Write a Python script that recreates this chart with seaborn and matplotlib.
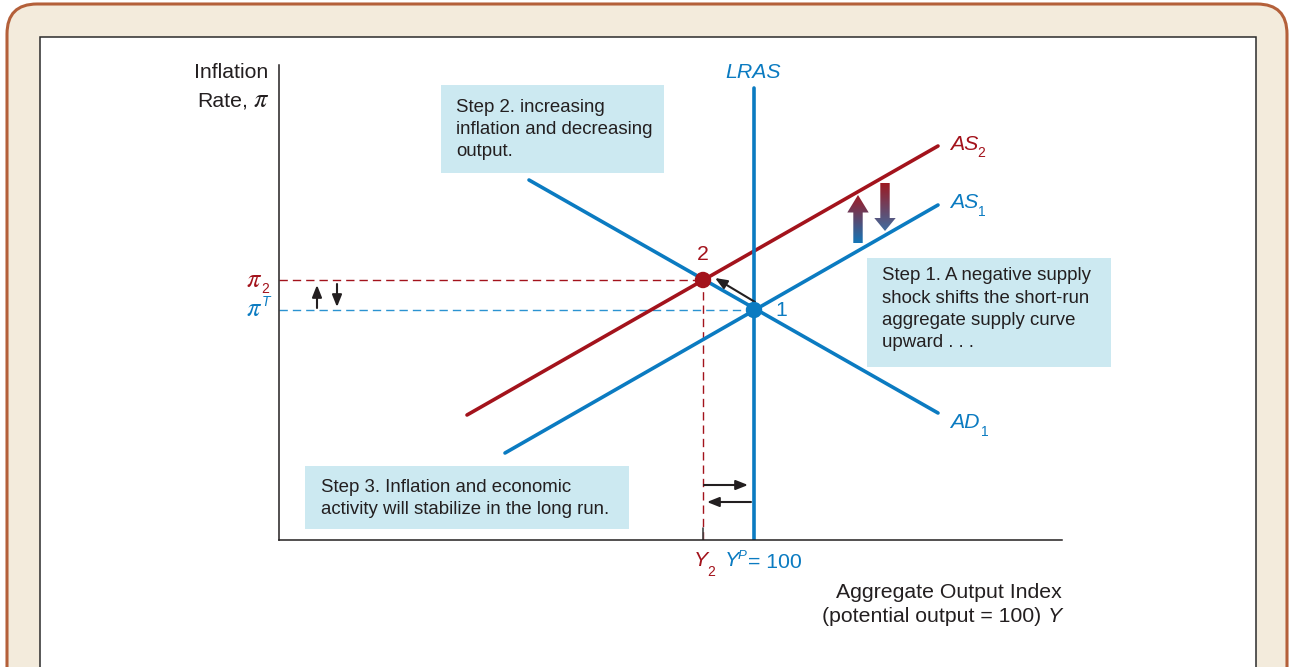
import numpy as np
import pandas as pd
import matplotlib
matplotlib.use('Agg')
import matplotlib.pyplot as plt
import seaborn as sns
from matplotlib.patches import FancyBboxPatch, Rectangle, Polygon
from matplotlib.transforms import IdentityTransform
from matplotlib.colors import LinearSegmentedColormap

# Valores del gráfico (índice de producción, inflación en unidades del gráfico)
y_potential = 100.0
y_2 = 94.9
pi_target = 23.0
pi_2 = 26.0
lras_top = 45.2
x_range = [52.5, 130.8]
y_range = [0.0, 47.5]

as1_x = [75.1, 118.4]
as1_y = [8.7, 33.5]
as2_x = [71.3, 118.4]
as2_y = [12.5, 39.4]
ad1_x = [77.5, 118.4]
ad1_y = [36.0, 12.7]
lras_x = [y_potential, y_potential]
lras_y = [0.0, lras_top]

eq_names = ['1', '2']
eq_x = [y_potential, y_2]
eq_y = [pi_target, pi_2]

step_texts = {
    'step2': ['Step 2. increasing', 'inflation and decreasing', 'output.'],
    'step1': ['Step 1. A negative supply', 'shock shifts the short-run',
              'aggregate supply curve', 'upward . . .'],
    'step3': ['Step 3. Inflation and economic', 'activity will stabilize in the long run.'],
}

# Colores
BLUE = '#0B7BC1'
BLUE_DASH = '#2B93D1'
RED = '#A3131C'
BOX = '#CCE9F1'
INK = '#231F20'
BEIGE = '#F3EBDC'
RUST = '#B4603A'

W, H = 1293, 667
FS = 15.3
FS_BOX = 13.4

sns.set_theme(style='white')
plt.rcParams['font.family'] = ['Liberation Sans', 'DejaVu Sans']
plt.rcParams['mathtext.fontset'] = 'stix'

fig = plt.figure(figsize=(W / 100, H / 100), dpi=100)
fig.patch.set_facecolor('white')

# Marco exterior y panel blanco (en píxeles)
frame = FancyBboxPatch((7, -60), 1280, H - 4 + 60,
                       boxstyle='round,pad=0,rounding_size=30',
                       transform=IdentityTransform(), facecolor=BEIGE,
                       edgecolor=RUST, linewidth=2.2, zorder=-10)
fig.patches.append(frame)
panel = Rectangle((40, -20), 1216, H - 37 + 20, transform=IdentityTransform(),
                  facecolor='white', edgecolor='#2B2B2B', linewidth=1.1, zorder=-9)
fig.patches.append(panel)


def box(x0, y0, x1, y1):
    r = Rectangle((x0, H - y1), x1 - x0, y1 - y0, transform=IdentityTransform(),
                  facecolor=BOX, edgecolor='none', zorder=-8)
    fig.patches.append(r)


box(441, 85, 664, 173)
box(867, 258, 1111, 367)
box(305, 466, 629, 529)


def ftext(x, y, s, **kw):
    kw.setdefault('va', 'center')
    kw.setdefault('color', INK)
    kw.setdefault('fontsize', FS)
    fig.text(x / W, 1 - y / H, s, **kw)


# Ejes principales
ax = fig.add_axes([279 / W, (H - 540) / H, 783 / W, 475 / H])
ax.set_facecolor('none')
ax.set_xlim(x_range)
ax.set_ylim(y_range)
ax.set_xticks([])
ax.set_yticks([])
sns.despine(ax=ax)
for side in ['left', 'bottom']:
    ax.spines[side].set_color(INK)
    ax.spines[side].set_linewidth(1.1)

# Líneas de referencia discontinuas
dash = (0, (6, 3.6))
ax.plot([x_range[0], y_2], [pi_2, pi_2], ls=dash, color=RED, lw=1.0, zorder=1)
ax.plot([y_2, y_2], [0, pi_2], ls=dash, color=RED, lw=1.0, zorder=1)
ax.plot([x_range[0], y_potential], [pi_target, pi_target], ls=dash, color=BLUE_DASH, lw=1.0, zorder=1)
ax.plot([y_2, y_2], [0, 1.2], color='#444444', lw=1.2, zorder=1)

# Curvas
curves = [(ad1_x, ad1_y, BLUE), (as1_x, as1_y, BLUE), (as2_x, as2_y, RED), (lras_x, lras_y, BLUE)]
for cx, cy, col in curves:
    sns.lineplot(x=cx, y=cy, ax=ax, color=col, lw=2.6, estimator=None, sort=False, zorder=2)

# Puntos de equilibrio
eq_df = pd.DataFrame({'name': eq_names, 'x': eq_x, 'y': eq_y})
sns.scatterplot(data=eq_df, x='x', y='y', hue='name', palette={'1': BLUE, '2': RED},
                s=140, edgecolor='none', legend=False, ax=ax, zorder=5)
ax.set_xlabel('')
ax.set_ylabel('')

# Flechas negras
thin = dict(arrowstyle='-|>,head_length=0.6,head_width=0.24', color=INK, lw=1.5,
            shrinkA=0, shrinkB=0)
ax.annotate('', xy=(96.1, 26.2), xytext=(100.1, 23.8), arrowprops=thin, zorder=4)
ax.annotate('', xy=(56.3, 25.5), xytext=(56.3, 23.2), arrowprops=thin)
ax.annotate('', xy=(58.3, 23.3), xytext=(58.3, 25.6), arrowprops=thin)
ax.annotate('', xy=(99.4, 5.5), xytext=(95.0, 5.5), arrowprops=thin)
ax.annotate('', xy=(95.3, 3.8), xytext=(99.7, 3.8), arrowprops=thin)


def gradient_arrow(x, y_tail, y_tip, c_bottom, c_top, shaft=0.47, head=1.07, head_len=1.6):
    d = np.sign(y_tip - y_tail)
    yb = y_tip - d * head_len
    verts = [(x - shaft, y_tail), (x - shaft, yb), (x - head, yb), (x, y_tip),
             (x + head, yb), (x + shaft, yb), (x + shaft, y_tail)]
    poly = Polygon(verts, closed=True, facecolor='none', edgecolor='none')
    ax.add_patch(poly)
    cmap = LinearSegmentedColormap.from_list('g', [c_bottom, c_top])
    grad = np.linspace(0, 1, 200).reshape(-1, 1)
    im = ax.imshow(grad, extent=(x - head, x + head, min(y_tail, y_tip), max(y_tail, y_tip)),
                   origin='lower', cmap=cmap, aspect='auto', zorder=4)
    im.set_clip_path(poly)


gradient_arrow(110.4, 29.7, 34.5, '#1476B8', '#A11A24', head_len=1.75)
gradient_arrow(113.1, 35.7, 30.9, '#3F6CA0', '#9C1A22', head_len=1.3)
ax.set_xlim(x_range)
ax.set_ylim(y_range)

# Textos
ftext(268, 73, 'Inflation', ha='right')
ftext(248, 101, 'Rate,', ha='right')
ftext(261, 100, r'$\pi$', ha='center', fontsize=19)
ftext(254, 280, r'$\pi$', ha='center', fontsize=19, color=RED)
ftext(265, 289, '2', ha='center', fontsize=10, color=RED)
ftext(254, 309, r'$\pi$', ha='center', fontsize=19, color=BLUE)
ftext(266, 302, 'T', ha='center', fontsize=10, color=BLUE, style='italic')

ftext(753, 73, 'LRAS', ha='center', color=BLUE, style='italic')
ftext(950, 144, 'AS', ha='left', color=RED, style='italic')
ftext(977, 153, '2', ha='left', color=RED, fontsize=10)
ftext(950, 203, 'AS', ha='left', color=BLUE, style='italic')
ftext(978, 212, '1', ha='left', color=BLUE, fontsize=10)
ftext(950, 423, 'AD', ha='left', color=BLUE, style='italic')
ftext(981, 432, '1', ha='left', color=BLUE, fontsize=10)

ftext(703, 254, '2', ha='center', color=RED)
ftext(781, 311, '1', ha='center', color=BLUE)

ftext(694, 561, 'Y', ha='left', color=RED, style='italic')
ftext(707, 572, '2', ha='left', color=RED, fontsize=10)
ftext(725, 561, 'Y', ha='left', color=BLUE, style='italic')
ftext(738, 556, 'P', ha='left', color=BLUE, fontsize=9.5, style='italic')
ftext(748, 563, '= 100', ha='left', color=BLUE)

ftext(1062, 592, 'Aggregate Output Index', ha='right')
ftext(1041, 617, '(potential output = 100)', ha='right')
ftext(1062, 617, 'Y', ha='right', style='italic')

for (x0, y0), key in [((456, 107), 'step2'), ((882, 276), 'step1'), ((321, 487), 'step3')]:
    for i, line in enumerate(step_texts[key]):
        ftext(x0, y0 + i * 22.3, line, ha='left', fontsize=FS_BOX)

fig.savefig('out.png', dpi=100)
